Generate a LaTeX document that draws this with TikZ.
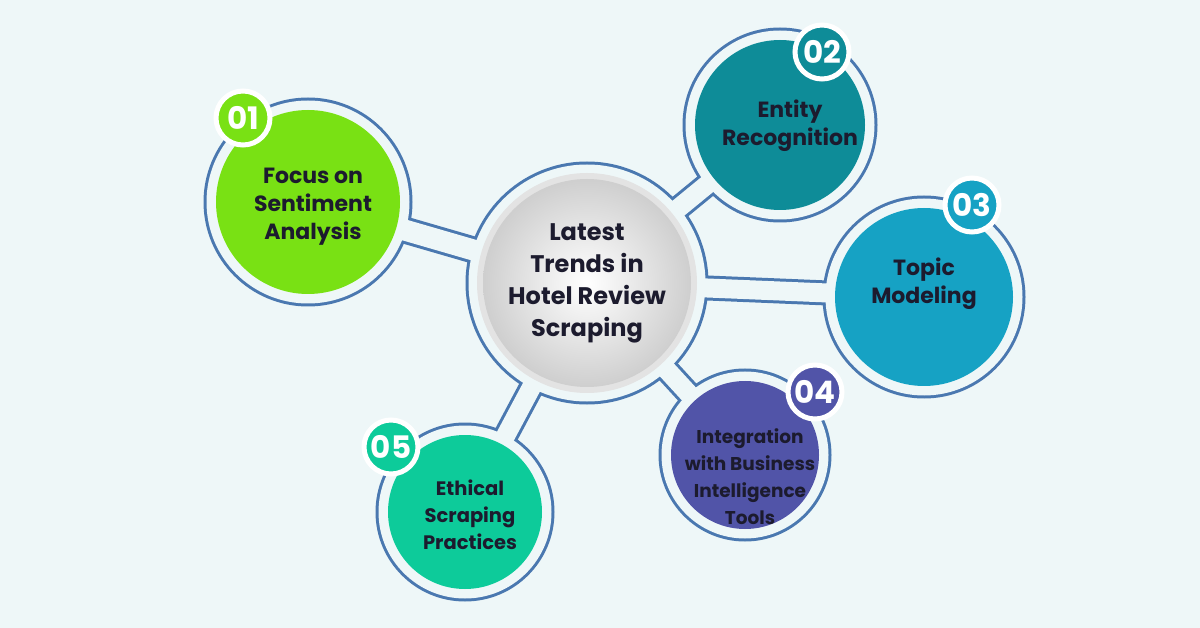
\documentclass[tikz,border=0pt]{standalone}
\usepackage{fontspec}
\setmainfont{Poppins}
\begin{document}
\begin{tikzpicture}[x=1pt,y=-1pt]
\definecolor{bg}{HTML}{EEF7F8}
\definecolor{ol}{HTML}{4A78B0}
\definecolor{txt}{HTML}{1C1B2E}
\definecolor{cA}{HTML}{79E114}
\definecolor{cB}{HTML}{0E8C98}
\definecolor{cC}{HTML}{16A2C4}
\definecolor{cD}{HTML}{5154A8}
\definecolor{cE}{HTML}{0DCB9A}
\tikzset{lbl/.style={font=\fontsize{22}{28}\selectfont\bfseries,text=txt,align=center},
 num/.style={circle,fill=#1,draw=white,line width=5pt,minimum size=54pt,inner sep=0pt,text=white,font=\fontsize{31}{31}\selectfont\bfseries}}
\fill[bg] (0,0) rectangle (1200,628);
\useasboundingbox (0,0) rectangle (1200,628);
\coordinate (C) at (587,283);
\coordinate (A) at (308,202);
\coordinate (B) at (780,125);
\coordinate (Cc) at (924,297);
\coordinate (D) at (745,455);
\coordinate (E) at (465,512);
\begin{scope}[ol]
\fill (C) circle (121.5);
\fill (A) circle (104.5);
\fill (B) circle (97.5);
\fill (Cc) circle (101.5);
\fill (D) circle (86.5);
\fill (E) circle (89.5);
\draw[line width=27pt] (C) -- (A);
\draw[line width=25pt] (C) -- (B);
\draw[line width=25pt] (C) -- (Cc);
\draw[line width=25pt] (C) -- (D);
\draw[line width=25pt] (C) -- (E);
\end{scope}
\begin{scope}[bg]
\fill (C) circle (118.5);
\fill (A) circle (101.5);
\fill (B) circle (94.5);
\fill (Cc) circle (98.5);
\fill (D) circle (83.5);
\fill (E) circle (86.5);
\draw[line width=21pt] (C) -- (A);
\draw[line width=19pt] (C) -- (B);
\draw[line width=19pt] (C) -- (Cc);
\draw[line width=19pt] (C) -- (D);
\draw[line width=19pt] (C) -- (E);
\end{scope}
\fill[gray!22] (C) circle (110);
\shade[inner color=white,outer color=gray!38] (C) circle (104);
\fill[cA] (A) circle (92);
\fill[cB] (B) circle (85);
\fill[cC] (Cc) circle (89);
\fill[cD] (D) circle (74);
\fill[cE] (E) circle (77);
\node[lbl,font=\fontsize{24}{32}\selectfont\bfseries] (tc) at (C) {Latest\\Trends in\\Hotel Review\\Scraping};
\node[lbl] (ta) at (313,207) {Focus on\\Sentiment\\Analysis};
\node[lbl] (tb) at (790,126) {Entity\\Recognition};
\node[lbl] (tcc) at (924,284) {Topic\\Modeling};
\node[lbl,font=\fontsize{18.5}{27}\selectfont\bfseries] (td) at (750,477) {Integration\\with Business\\Intelligence\\Tools};
\node[lbl,font=\fontsize{19.5}{27}\selectfont\bfseries] (te) at (470,515) {Ethical\\Scraping\\Practices};
\node[num=cA] (na) at (243,118) {01};
\node[num=cB] (nb) at (822,52) {02};
\node[num=cC] (nc) at (972,205) {03};
\node[num=cD] (nd) at (815,392) {04};
\node[num=cE] (ne) at (391,447) {05};
\end{tikzpicture}
\end{document}
